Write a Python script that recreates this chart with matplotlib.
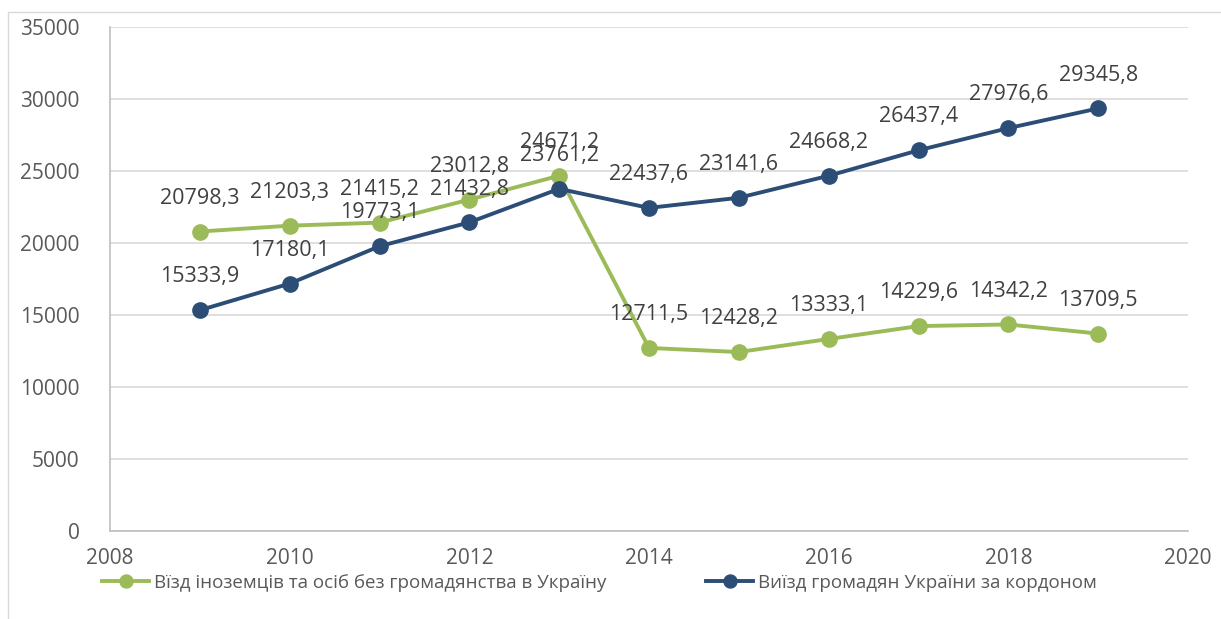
import matplotlib.pyplot as plt
from matplotlib.patches import Rectangle

plt.rcParams['font.family'] = ['Open Sans', 'DejaVu Sans']

# data
years = [2009, 2010, 2011, 2012, 2013, 2014, 2015, 2016, 2017, 2018, 2019]
entry_foreign = [20798.3, 21203.3, 21415.2, 23012.8, 24671.2, 12711.5,
                 12428.2, 13333.1, 14229.6, 14342.2, 13709.5]
exit_citizens = [15333.9, 17180.1, 19773.1, 21432.8, 23761.2, 22437.6,
                 23141.6, 24668.2, 26437.4, 27976.6, 29345.8]
label_entry = 'Вїзд іноземців та осіб без громадянства в Україну'
label_exit = 'Виїзд громадян України за кордоном'
xticks = [2008, 2010, 2012, 2014, 2016, 2018, 2020]
yticks = [0, 5000, 10000, 15000, 20000, 25000, 30000, 35000]

green = '#9BBB59'
navy = '#2C4D76'
txt = '#404040'
tick_col = '#595959'

W, H = 1221, 619
fig = plt.figure(figsize=(W / 100, H / 100), dpi=100)
ax = fig.add_axes([110 / W, 1 - 531 / H, (1188 - 110) / W, (531 - 27) / H])

# light outer border (top/left visible in the reference)
fig.patches.append(Rectangle((8 / W, -0.1), 1.2, 1 - 12 / H + 0.1,
                             transform=fig.transFigure, fill=False,
                             edgecolor='#D9D9D9', linewidth=1))

for vals, col, lab in [(entry_foreign, green, label_entry),
                       (exit_citizens, navy, label_exit)]:
    ax.plot(years, vals, color=col, linewidth=2.8, marker='o',
            markersize=11, label=lab, zorder=3)
    for x, y in zip(years, vals):
        ax.annotate(f'{y:.1f}'.replace('.', ','), (x, y),
                    xytext=(0, 24), textcoords='offset points',
                    ha='center', va='center', fontsize=15.5, color=txt,
                    zorder=4)

ax.set_xlim(2008, 2020)
ax.set_ylim(0, 35000)
ax.set_xticks(xticks)
ax.set_yticks(yticks)
ax.grid(axis='y', color='#D9D9D9', linewidth=1.2)
ax.set_axisbelow(True)
for side in ['top', 'right']:
    ax.spines[side].set_visible(False)
for side in ['left', 'bottom']:
    ax.spines[side].set_color('#BFBFBF')
    ax.spines[side].set_linewidth(1.2)
ax.tick_params(length=0, labelsize=15, labelcolor=tick_col)
ax.tick_params(axis='x', pad=12)
ax.tick_params(axis='y', pad=22)

leg = ax.legend(loc='center left', bbox_to_anchor=(-17 / 1078, -52 / 504),
                ncol=2, frameon=False, fontsize=13.5, labelcolor=tick_col,
                handlelength=2.5, handletextpad=0.27, columnspacing=5.3,
                borderpad=0, markerscale=0.85)

fig.savefig('out.png', dpi=100)
